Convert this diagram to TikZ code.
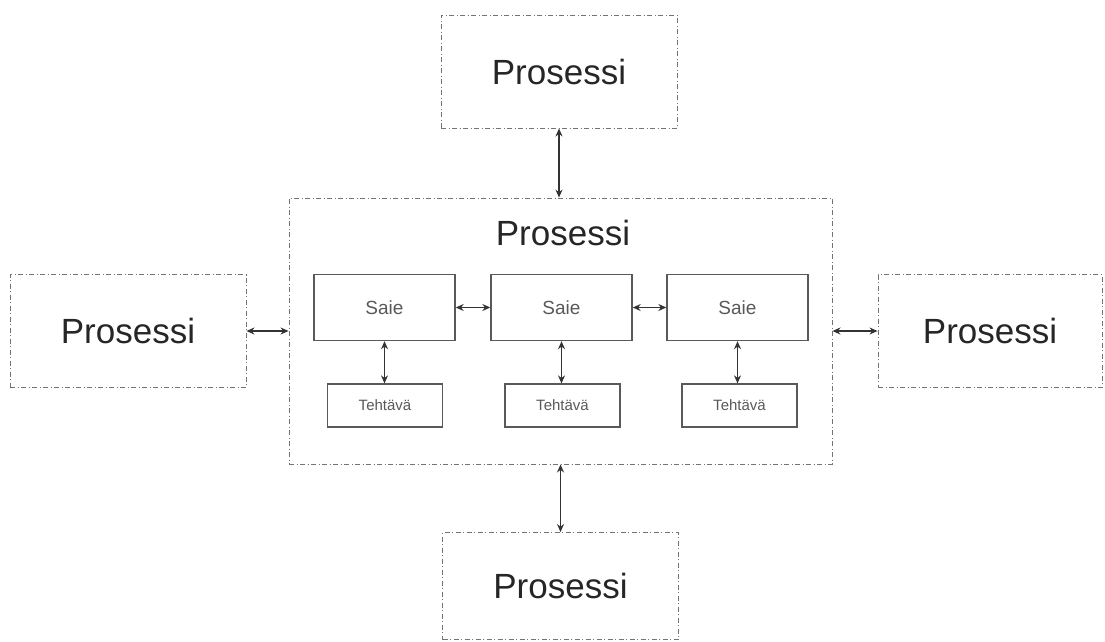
\documentclass[tikz,border=0pt]{standalone}
\usepackage{fontspec}
\setmainfont{Liberation Sans}
\usetikzlibrary{arrows.meta}
\begin{document}
\begin{tikzpicture}[x=1pt,y=-1pt,
  proc/.style={draw=black!55, line width=0.9pt,
    dash pattern=on 5pt off 2.5pt on 1pt off 2.5pt,
    minimum width=236pt, minimum height=113pt, inner sep=0pt,
    font=\fontsize{35}{40}\selectfont, text=black!85},
  saie/.style={draw=black!65, line width=1.4pt, minimum width=141pt,
    minimum height=66pt, inner sep=0pt,
    font=\fontsize{19}{22}\selectfont, text=black!65},
  task/.style={draw=black!65, line width=1.3pt, minimum width=115pt,
    minimum height=43pt, inner sep=0pt,
    font=\fontsize{15}{18}\selectfont, text=black!65},
  link/.style={draw=black!80, line width=1.2pt,
    {Stealth[length=8pt,width=7pt]}-{Stealth[length=8pt,width=7pt]}}]
\useasboundingbox (0,0) rectangle (1105,641);

% outer processes
\node[proc] (top)    at (559,71.5)  {Prosessi};
\node[proc] (left)   at (128,331)   {Prosessi};
\node[proc, minimum width=224pt] (right) at (990,331) {Prosessi};
\node[proc, minimum height=107pt] (bottom) at (560.5,586) {Prosessi};

% central process
\node[proc, minimum width=543pt, minimum height=266pt] (main) at (560.5,331) {};
\node[font=\fontsize{35}{40}\selectfont, text=black!85] (mainlbl) at (563,233) {Prosessi};

% threads
\node[saie] (s1) at (384.5,307.5) {Saie};
\node[saie] (s2) at (561.5,307.5) {Saie};
\node[saie] (s3) at (737.5,307.5) {Saie};

% tasks
\node[task] (t1) at (385,405.5)   {Tehtävä};
\node[task] (t2) at (562.5,405.5) {Tehtävä};
\node[task] (t3) at (739.5,405.5) {Tehtävä};

% connectors
\draw[link] (top.south) -- (top.south |- main.north);
\draw[link] (bottom.north) -- (bottom.north |- main.south);
\draw[link] (left.east) -- (main.west);
\draw[link] (main.east) -- (right.west);
\draw[link] (s1.east) -- (s2.west);
\draw[link] (s2.east) -- (s3.west);
\draw[link] (s1.south) -- (s1.south |- t1.north);
\draw[link] (s2.south) -- (s2.south |- t2.north);
\draw[link] (s3.south) -- (s3.south |- t3.north);
\end{tikzpicture}
\end{document}
